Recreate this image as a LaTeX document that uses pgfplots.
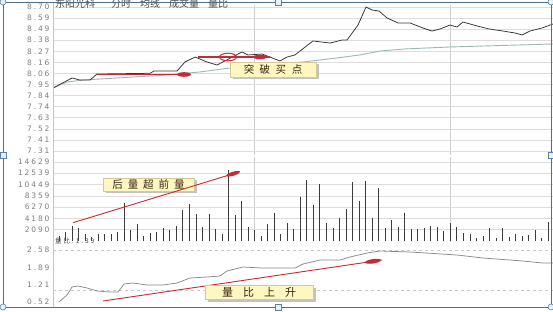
\documentclass[border=0pt]{standalone}
\usepackage{fontspec}
\usepackage{pgfplots}
\usepackage{pgfplotstable}
\pgfplotsset{compat=1.18}
\setmainfont{DejaVu Sans}
\newfontfamily\tickfont[LetterSpace=25]{DejaVu Sans}
\newfontfamily\cjk{Noto Sans CJK SC}
\newfontfamily\cjksp[LetterSpace=30]{Noto Sans CJK SC}
\definecolor{tickgray}{HTML}{7E7E7E}
\definecolor{gridgray}{HTML}{E0DCDC}
\definecolor{vgrid}{HTML}{CFCFCF}
\definecolor{axisgray}{HTML}{C4C4C4}
\definecolor{pricec}{HTML}{333333}
\definecolor{avgc}{HTML}{9DB8B4}
\definecolor{barc}{HTML}{3C3C3C}
\definecolor{ratioc}{HTML}{8A8A8A}
\definecolor{redline}{HTML}{C42B36}
\definecolor{boxyellow}{HTML}{FFF7C2}
\definecolor{boxborder}{HTML}{D6CA94}
\definecolor{shadowgray}{HTML}{C2C2C2}
\definecolor{annot}{HTML}{3A2410}
\definecolor{titlegray}{HTML}{4A4A4A}
\definecolor{framec}{HTML}{4F6F86}
\definecolor{handlefill}{HTML}{E8F1F8}
\definecolor{handledraw}{HTML}{5A82A8}

\pgfplotstableread{
x y
-0.9 7.918
1.99 8.015
3.22 7.995
4.75 7.995
5.82 8.053
13.95 8.060
14.56 8.082
18.09 8.082
19.31 8.169
20.85 8.217
22.69 8.169
24.22 8.140
28.05 8.266
28.97 8.237
31.12 8.246
32.34 8.217
33.87 8.179
34.95 8.217
36.17 8.237
38.93 8.372
41.54 8.352
43.38 8.381
44.15 8.381
45.83 8.526
47.06 8.700
47.98 8.671
49.05 8.661
50.28 8.594
51.96 8.546
53.80 8.546
55.79 8.497
57.17 8.468
58.40 8.488
59.93 8.526
61.01 8.507
61.93 8.555
64.07 8.517
65.91 8.488
68.06 8.468
69.90 8.449
70.97 8.430
72.20 8.468
74.03 8.497
75.72 8.536
}\pricetable

\pgfplotstableread{
x y
-0.9 7.918
1.23 7.976
3.68 7.995
11.34 8.024
16.55 8.044
21.60 8.073
26.20 8.111
29.70 8.140
32.30 8.150
37.40 8.169
42.60 8.208
46.10 8.237
49.20 8.275
53.00 8.295
59.90 8.314
75.72 8.343
}\avgtable

\pgfplotstableread{
x y
0 900
1 1600
2 2830
3 2350
4 1300
5 800
6 1350
7 1300
8 1350
9 1600
10 6970
11 2090
12 3090
13 980
14 1420
15 1660
16 2350
17 1980
18 2770
19 5730
20 6790
21 4940
22 2650
23 5000
24 2220
25 1240
26 13135
27 4810
28 7400
29 2590
30 2040
31 925
32 3090
33 5120
34 1300
35 3390
36 2220
37 8140
38 11290
39 6720
40 10490
41 3330
42 2400
43 4250
44 5920
45 10860
46 7340
47 11160
48 4200
49 9750
50 2350
51 3830
52 2650
53 5120
54 2220
55 2220
56 2400
57 2720
58 2650
59 1900
60 3390
61 2650
62 1480
63 1240
64 555
65 980
66 2350
67 555
68 2460
69 740
70 1240
71 925
72 1170
73 2090
74 500
75 3460
}\voltable

\pgfplotstableread{
x y
0 0.520
1.23 0.797
1.99 1.114
2.91 1.154
4.29 1.074
5.82 0.956
7.82 0.916
9.04 0.916
9.96 1.233
11.34 1.272
13.49 1.193
15.94 1.193
18.09 1.272
20.08 1.470
22.69 1.510
24.68 1.550
25.75 1.748
28.20 1.906
31.10 1.866
33.90 1.866
36.20 1.866
37.40 2.025
40.00 2.183
43.10 2.183
44.60 2.302
47.20 2.460
49.20 2.540
53.80 2.500
61.00 2.381
65.00 2.262
71.10 2.144
74.20 2.064
75.72 2.064
}\ratiotable

\pgfplotsset{panel/.style={
  scale only axis, width=500pt, xmin=-0.92, xmax=75.72,
  anchor=north west,
  axis line style={draw=none},
  major tick length=0pt,
  xtick={30,60}, xticklabels={},
  scaled y ticks=false,
  /pgf/number format/assume math mode=true,
  yticklabel style={font=\tickfont\fontsize{7.5}{9}\selectfont, text=tickgray},
}}

\begin{document}
\begin{tikzpicture}
\useasboundingbox (0pt,0pt) rectangle (553pt,-312pt);
\fill[white] (0pt,0pt) rectangle (553pt,-312pt);

% price panel
\begin{axis}[panel, at={(53pt,-5pt)}, height=150pt,
  ymin=7.2714, ymax=8.7193,
  ytick={8.7,8.5931,8.4862,8.3792,8.2723,8.1654,8.0585,7.9515,7.8446,7.7377,7.6308,7.5238,7.4169,7.31},
  yticklabels={8.70,8.59,8.49,8.38,8.27,8.16,8.06,7.95,7.84,7.74,7.63,7.52,7.41,7.31},
  xmajorgrids, ymajorgrids,
  major x grid style={color=vgrid, line width=0.6pt},
  major y grid style={color=gridgray, line width=0.6pt}]
\addplot[color=avgc, line width=0.9pt, no marks] table {\avgtable};
\addplot[color=pricec, line width=0.75pt, no marks] table {\pricetable};
\end{axis}

% volume panel
\begin{axis}[panel, at={(53pt,-157pt)}, height=85pt,
  ymin=-183, ymax=15543,
  ytick={2090,4180,6270,8359,10449,12539,14629},
  yticklabels={2090,4180,6270,8359,10449,12539,14629},
  xmajorgrids, ymajorgrids,
  major x grid style={color=vgrid, line width=0.6pt},
  major y grid style={color=gridgray, line width=0.6pt}]
\addplot[ycomb, no marks, color=barc, line width=1pt] table {\voltable};
\end{axis}

% ratio panel
\begin{axis}[panel, at={(53pt,-244pt)}, height=63pt,
  ymin=0.322, ymax=2.817,
  ytick={0.52,1.21,1.89,2.58},
  yticklabels={0.52,1.21,1.89,2.58},
  xtick=\empty]
\draw[gridgray!80!gray, dashed, line width=0.6pt] (axis cs:-0.92,2.58) -- (axis cs:75.72,2.58);
\draw[gridgray!80!gray, dashed, line width=0.6pt] (axis cs:-0.92,1.0) -- (axis cs:75.72,1.0);
\addplot[color=ratioc, line width=0.75pt, no marks] table {\ratiotable};
\end{axis}

\begin{scope}[x=1pt,y=1pt]
% left axis line
\draw[axisgray, line width=0.6pt] (53,-3) -- (53,-307);

% title
\node[anchor=base west, inner sep=0, text=titlegray, font=\cjk\fontsize{10}{12}\selectfont] at (55,-8)
  {东阳光科\hspace{16pt}分时\hspace{9pt}均线\hspace{9pt}成交量\hspace{9pt}量比};
\node[anchor=west, inner sep=0, text=titlegray, font=\cjksp\fontsize{6.5}{8}\selectfont] at (55,-241.5) {量比:1.39};

% breakthrough annotation
\draw[redline, line width=1.6pt] (97,-74.5) -- (190,-74.5);
\fill[redline] (184,-74.5) ellipse (7 and 2.3);
\draw[redline, line width=1.1pt] (198,-57) -- (270,-57);
\draw[redline, line width=1pt] (228,-57) ellipse (8.5 and 3.8);
\fill[redline] (260,-57) ellipse (7 and 2.2);
\fill[shadowgray] (232.5,-64.5) rectangle (318.5,-79.5);
\filldraw[fill=boxyellow, draw=boxborder, line width=0.4pt] (230,-62) rectangle (316,-77);
\node[text=annot, font=\cjk\fontsize{10.5}{12}\selectfont] at (273,-69.5) {突\hspace{5.5pt}破\hspace{5.5pt}买\hspace{5.5pt}点};

% volume annotation
\fill[shadowgray] (105.5,-180.5) rectangle (196.5,-193.5);
\filldraw[fill=boxyellow, draw=boxborder, line width=0.4pt] (103,-178) rectangle (194,-191);
\node[text=annot, font=\cjk\fontsize{10.5}{12}\selectfont] at (148.5,-184.5) {后\hspace{5pt}量\hspace{5pt}超\hspace{5pt}前\hspace{5pt}量};
\draw[redline, line width=0.9pt] (73,-222.7) -- (240,-171.7);
\fill[redline, rotate around={17:(233,-173.8)}] (233,-173.8) ellipse (7 and 2);

% ratio annotation
\draw[redline, line width=0.9pt] (103,-301) -- (382,-260);
\fill[redline, rotate around={8.4:(373,-261.3)}] (373,-261.3) ellipse (8 and 2.2);
\fill[shadowgray] (207.5,-287.5) rectangle (315.5,-301.5);
\filldraw[fill=boxyellow, draw=boxborder, line width=0.4pt] (205,-285) rectangle (313,-299);
\node[text=annot, font=\cjk\fontsize{11}{13}\selectfont] at (259,-292) {量\hspace{10pt}比\hspace{10pt}上\hspace{10pt}升};

% selection frame and handles
\draw[framec, line width=0.9pt] (3,-2) rectangle (551,-307);
\foreach \p in {(3,-2),(551,-2),(3,-307),(551,-307)}
  \filldraw[fill=handlefill, draw=handledraw, line width=0.6pt] \p circle (3);
\foreach \p in {(278,-2),(278,-307),(3,-155),(551,-155)}
  \filldraw[fill=handlefill, draw=handledraw, line width=0.6pt] \p ++(-3,-3) rectangle ++(6,6);
\end{scope}
\end{tikzpicture}
\end{document}
